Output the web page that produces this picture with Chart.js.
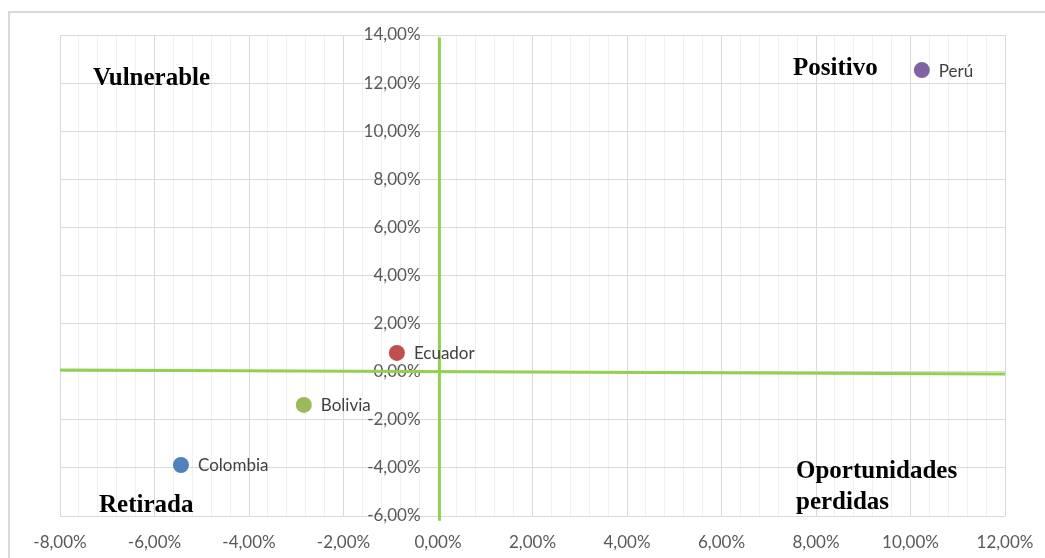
<!DOCTYPE html>
<html>
<head>
<meta charset="utf-8">
<script src="https://cdn.jsdelivr.net/npm/chart.js@4.4.0/dist/chart.umd.min.js"></script>
<style>
  html, body { margin: 0; padding: 0; background: #fff; }
  canvas { display: block; }
</style>
</head>
<body>
<canvas id="quadChart" width="1045" height="558"></canvas>
<script>
(function () {
    "use strict";

    // countries and their (x, y) values in %
    var countries = ["Colombia", "Bolivia", "Ecuador", "Perú"];
    var xValues = [-5.44, -2.84, -0.87, 10.24];
    var yValues = [-3.88, -1.38, 0.78, 12.54];
    var colors = ["#4F81BD", "#9BBB59", "#C0504D", "#8064A2"];

    // axis ranges
    var xRange = [-8, 12];
    var yRange = [-6, 14];

    // quadrant captions
    var quadrantLabels = [
        { text: "Vulnerable", x: 93, y: 79 },
        { text: "Positivo", x: 793, y: 69 },
        { text: "Retirada", x: 99, y: 506 },
        { text: "Oportunidades", x: 796, y: 472 },
        { text: "perdidas", x: 796, y: 503 }
    ];

    function pct(v) {
        return v.toFixed(2).replace(".", ",") + "%";
    }
    function isMajor(v) {
        return Math.abs(v / 2 - Math.round(v / 2)) < 1e-6;
    }

    var datasets = countries.map(function (name, i) {
        return {
            label: name,
            data: [{ x: xValues[i], y: yValues[i] }],
            backgroundColor: colors[i],
            borderWidth: 0,
            pointRadius: 8,
            order: 0
        };
    });

    // green quadrant dividers
    datasets.push({
        label: "vline",
        data: [{ x: 0.03, y: yRange[1] - 0.1 }, { x: 0.03, y: yRange[0] - 0.2 }],
        showLine: true,
        borderColor: "#92D050",
        borderWidth: 3,
        pointRadius: 0,
        clip: false,
        order: 1
    });
    datasets.push({
        label: "hline",
        data: [{ x: xRange[0], y: 0.07 }, { x: xRange[1], y: -0.1 }],
        showLine: true,
        borderColor: "#92D050",
        borderWidth: 3,
        pointRadius: 0,
        clip: false,
        order: 1
    });

    var framePlugin = {
        id: "frame",
        beforeDraw: function (chart) {
            var c = chart.ctx;
            c.save();
            c.fillStyle = "#fff";
            c.fillRect(0, 0, chart.width, chart.height);
            c.strokeStyle = "#d9d9d9";
            c.lineWidth = 2;
            c.strokeRect(9, 12, 1100, 600);
            c.restore();
        }
    };

    var labelPlugin = {
        id: "labels",
        afterDatasetsDraw: function (chart) {
            var c = chart.ctx;
            c.save();
            c.font = "17px Lato";
            c.fillStyle = "#404040";
            c.textBaseline = "middle";
            c.textAlign = "left";
            countries.forEach(function (name, i) {
                var pt = chart.getDatasetMeta(i).data[0];
                c.fillText(name, pt.x + 17, pt.y + 1);
            });
            c.font = "bold 25px 'Liberation Serif'";
            c.fillStyle = "#000";
            quadrantLabels.forEach(function (q) {
                c.fillText(q.text, q.x, q.y);
            });
            c.restore();
        }
    };

    new Chart(document.getElementById("quadChart"), {
        type: "scatter",
        data: { datasets: datasets },
        plugins: [framePlugin, labelPlugin],
        options: {
            responsive: false,
            animation: false,
            layout: { padding: { left: 60, top: 35, right: 40, bottom: 0 } },
            plugins: {
                legend: { display: false },
                tooltip: { enabled: false }
            },
            scales: {
                x: {
                    type: "linear",
                    position: "bottom",
                    min: xRange[0],
                    max: xRange[1],
                    afterFit: function (scale) {
                        scale.height = 42;
                        scale.paddingLeft = 0;
                        scale.paddingRight = 0;
                    },
                    border: { display: false },
                    grid: {
                        drawTicks: false,
                        color: function (ctx) {
                            return isMajor(ctx.tick.value) ? "#d9d9d9" : "#f0f0f0";
                        },
                        lineWidth: 1
                    },
                    ticks: {
                        stepSize: 0.4,
                        autoSkip: false,
                        maxRotation: 0,
                        padding: 16,
                        color: "#595959",
                        font: { family: "Lato", size: 17 },
                        callback: function (v) { return isMajor(v) ? pct(v) : ""; }
                    }
                },
                y: {
                    type: "linear",
                    position: { x: -0.37 },
                    min: yRange[0],
                    max: yRange[1],
                    border: { display: false },
                    grid: { drawTicks: false, color: "#d9d9d9", lineWidth: 1 },
                    ticks: {
                        stepSize: 2,
                        color: "#595959",
                        font: { family: "Lato", size: 17 },
                        callback: function (v) { return pct(v); }
                    }
                }
            }
        }
    });
})();
</script>
</body>
</html>
